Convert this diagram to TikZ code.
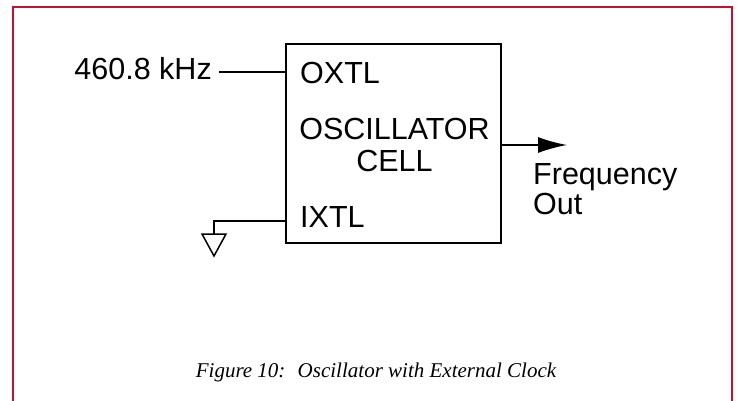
\documentclass[tikz,border=0pt]{standalone}
\usepackage{fontspec}
\setmainfont{Liberation Serif}
\newfontfamily\diagfont{Liberation Sans}
\usepackage{tikz}
\usetikzlibrary{arrows.meta}
\definecolor{frame_red}{RGB}{200,16,46}
\tikzstyle{block} = [rectangle, 
draw=black, 
line width=1.5pt, 
minimum width=215pt, 
minimum height=199pt, 
inner sep=0pt]
\tikzstyle{pinlabel} = [inner sep=0pt, 
font=\diagfont\fontsize{30.5}{32}\selectfont]
\tikzstyle{wire} = [line width=1.5pt]
\tikzstyle{arrow} = [line width=1.5pt,-{Latex[length=29pt,width=16pt]}]

\begin{document}
\begin{tikzpicture}[x=1pt,y=-1pt]
	\useasboundingbox (0,0) rectangle (738,400);
	\clip (0,0) rectangle (738,400);
	\draw [frame_red, line width=2pt] (13,410) -- (13,6.5) -- (732,6.5) -- (732,410);

	\node (cell_box) [block] at (393.5,143.5) {};
	\node (oxtl_label) [pinlabel, anchor=base west] at (300,83) {OXTL};
	\node (cell_label) [pinlabel, anchor=north, align=center] at (394.5,118) {OSCILLATOR\\CELL};
	\node (ixtl_label) [pinlabel, anchor=base west] at (300,227) {IXTL};
	\node (input_clk) [pinlabel, anchor=base east] at (212,79) {460.8 kHz};
	\node (freq_out) [pinlabel, anchor=north west, align=left] at (533,163) {Frequency\\[-2pt]Out};
	\node (caption) [inner sep=0pt, anchor=base, font=\itshape\fontsize{21}{24}\selectfont] at (376,377) {Figure 10:~ Oscillator with External Clock};

	\coordinate (clk_end) at (219,72);
	\coordinate (ixtl_pin) at (286,221);
	\coordinate (gnd) at (214,234);
	\coordinate (out_tip) at (567,145);

	\draw [wire] (clk_end) -- (clk_end -| cell_box.west);
	\draw [wire] (ixtl_pin) -| (gnd);
	\draw [wire, line join=miter] (gnd) ++(-12,0) -- ++(24,0) -- ++(-12,22) -- cycle;
	\draw [arrow] (cell_box.east |- out_tip) -- (out_tip);
\end{tikzpicture}
\end{document}
